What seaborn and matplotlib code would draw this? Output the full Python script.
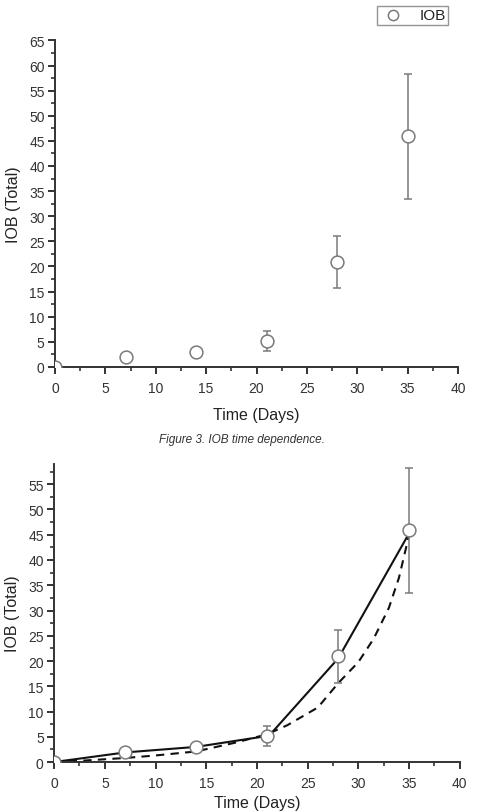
import matplotlib
matplotlib.use('Agg')
import matplotlib.pyplot as plt
import pandas as pd
import seaborn as sns
from matplotlib.ticker import MultipleLocator

days = [0, 7, 14, 21, 28, 35]
iob_mean = [0.0, 1.9, 3.0, 5.2, 20.9, 45.9]
iob_err = [0.0, 0.9, 0.3, 2.0, 5.2, 12.4]

# solid model line (connects the points)
fit_days = [0, 7, 14, 20.5, 21.5, 28, 35]
fit_iob = [0.0, 1.9, 3.0, 5.0, 5.9, 20.5, 45.3]

# dashed model curve
model_days = [0, 3, 7, 10, 14, 18, 21, 23, 26, 28, 30, 31.5, 33, 34, 35]
model_iob = [0.0, 0.3, 0.8, 1.3, 2.1, 3.9, 5.5, 7.3, 10.8, 15.6, 19.8, 24.4, 30.5, 36.5, 45.0]

sns.set_theme(style='ticks')
plt.rcParams['font.family'] = ['Liberation Sans', 'DejaVu Sans']

df = pd.DataFrame({'days': days, 'iob': iob_mean, 'err': iob_err})
fit_df = pd.DataFrame({'days': fit_days, 'iob': fit_iob})
model_df = pd.DataFrame({'days': model_days, 'iob': model_iob})

fig = plt.figure(figsize=(4.79, 8.12), dpi=100)
ax1 = fig.add_axes([0.115, 0.547, 0.841, 0.402])
ax2 = fig.add_axes([0.113, 0.0603, 0.847, 0.367])

dark = '#333333'
grey = '#7a7a7a'


def style_axes(ax, ymax, ymajor, xpad):
    ax.set_xlim(0, 40)
    ax.set_ylim(0, ymax)
    ax.xaxis.set_major_locator(MultipleLocator(5))
    ax.xaxis.set_minor_locator(MultipleLocator(2.5))
    ax.yaxis.set_major_locator(MultipleLocator(ymajor))
    ax.yaxis.set_minor_locator(MultipleLocator(2.5))
    sns.despine(ax=ax)
    for s in ['left', 'bottom']:
        ax.spines[s].set_linewidth(1.4)
        ax.spines[s].set_color(dark)
    ax.tick_params(which='major', length=5, width=1.4, color=dark,
                   labelsize=10, labelcolor=dark, pad=2.5)
    ax.tick_params(axis='x', which='major', pad=5)
    ax.tick_params(which='minor', length=3, width=1.2, color=dark)
    ax.set_xlabel('Time (Days)', fontsize=11.5, color='#222222', labelpad=xpad)
    ax.set_ylabel('IOB (Total)', fontsize=11.5, color='#222222', labelpad=6)


def draw_points(ax, label=None):
    ax.errorbar(df['days'], df['iob'], yerr=df['err'], fmt='none',
                ecolor=grey, elinewidth=1.1, capsize=3, capthick=1.1, zorder=3)
    sns.scatterplot(data=df, x='days', y='iob', ax=ax, s=85, marker='o',
                    facecolor='white', edgecolor=grey, linewidth=1.1,
                    zorder=4, label=label)


# top panel
draw_points(ax1, label='IOB')
style_axes(ax1, 65, 5, 9)
leg = ax1.legend(loc='upper right', bbox_to_anchor=(448 / 479, 1 - 7 / 812),
                 bbox_transform=fig.transFigure, frameon=True, fancybox=False,
                 fontsize=11, handletextpad=0.8, borderpad=0.15,
                 handlelength=1.8, borderaxespad=0, markerscale=0.8)
leg.get_frame().set_edgecolor(grey)
leg.get_frame().set_linewidth(1.0)
for t in leg.get_texts():
    t.set_color('#222222')

fig.text(0.505, 1 - 440 / 812, 'Figure 3. IOB time dependence.',
         ha='center', va='center', fontsize=8.5, style='italic', color='#333333')

# bottom panel
sns.lineplot(data=fit_df, x='days', y='iob', ax=ax2, color='#111111',
             linewidth=1.5, zorder=2)
sns.lineplot(data=model_df, x='days', y='iob', ax=ax2, color='#111111',
             linewidth=1.5, linestyle=(0, (4, 3)), zorder=2)
draw_points(ax2)
style_axes(ax2, 59, 5, 4)
if ax2.get_legend() is not None:
    ax2.get_legend().remove()

fig.savefig('out.png', dpi=100)
